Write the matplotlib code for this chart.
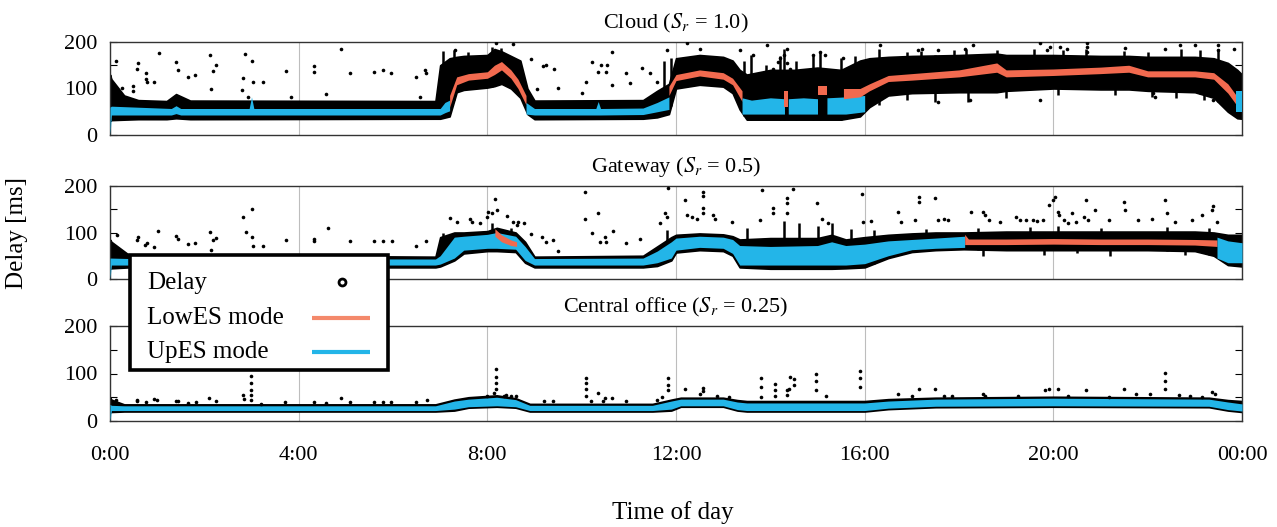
import matplotlib
matplotlib.use("Agg")
import numpy as np
import matplotlib.pyplot as plt
from matplotlib.patches import Rectangle

plt.rcParams['font.family'] = 'serif'
plt.rcParams['font.serif'] = ['Liberation Serif', 'DejaVu Serif']
plt.rcParams['mathtext.fontset'] = 'stix'
plt.rcParams['font.size'] = 16

RED = '#F26A4F'
BLUE = '#23B5E8'

hours = [0, 4, 8, 12, 16, 20, 24]
hour_labels = ['0:00', '4:00', '8:00', '12:00', '16:00', '20:00', '00:00']

# ---------------- Cloud (S_r = 1.0) ----------------
cloud_t = [0, 0.03, 0.3, 0.6, 1.2, 1.4, 1.7, 6.9, 7.0, 7.2, 7.35, 7.5, 8.0, 8.15, 8.3, 8.5,
           8.7, 8.85, 9.0, 11.3, 11.6, 11.85, 12.0, 12.5, 13.0, 13.2, 13.35, 13.5, 14.0, 14.5,
           15.0, 15.5, 15.9, 16.1, 16.5, 17.0, 18.0, 18.8, 19.0, 20.0, 21.0, 21.6, 22.0, 23.0,
           23.4, 23.7, 23.9, 24.0]
cloud_lo = [30, 32, 33, 34, 34, 36, 34, 35, 35, 40, 92, 97, 102, 105, 110, 100,
            80, 45, 34, 35, 38, 45, 100, 108, 104, 90, 55, 33, 33, 33,
            33, 33, 40, 60, 85, 90, 92, 92, 95, 100, 98, 98, 95, 92,
            80, 50, 36, 35]
cloud_hi = [130, 120, 85, 75, 73, 88, 74, 73, 150, 165, 168, 170, 172, 185, 180, 170,
            160, 100, 74, 75, 95, 110, 165, 172, 168, 160, 140, 130, 140, 140,
            145, 140, 160, 165, 168, 170, 172, 175, 172, 172, 170, 170, 168, 168,
            165, 155, 140, 130]
cloud_seg_mode = ['U', 'L', 'U', 'L', 'U', 'L', 'U', 'L', 'U', 'L', 'U']
cloud_seg_t = [[0, 0.03, 1.3, 1.4, 1.5, 2.95, 3.0, 3.05, 7.0, 7.1, 7.2],
               [7.2, 7.35, 7.6, 8.0, 8.15, 8.3, 8.5, 8.65, 8.82],
               [8.82, 9.0, 10.3, 10.35, 10.4, 11.3, 11.6, 11.85],
               [11.85, 12.0, 12.5, 13.0, 13.2, 13.4],
               [13.4, 13.6, 14.0, 14.3],
               [14.3, 14.38],
               [14.38, 14.7, 15.0],
               [15.0, 15.2],
               [15.2, 15.6, 16.0],
               [15.55, 15.9, 16.1, 16.5, 17.0, 18.0, 18.8, 19.0, 20.0, 21.0, 21.6, 22.0, 23.0,
                23.4, 23.7, 23.88],
               [23.88, 24.0]]
cloud_seg_lo = [[0, 43, 43, 46, 43, 43, 43, 43, 43, 48, 52],
                [60, 108, 118, 122, 130, 140, 122, 100, 65],
                [45, 43, 43, 43, 43, 44, 50, 55],
                [85, 117, 127, 120, 108, 72],
                [45, 45, 45, 45],
                [60, 60],
                [45, 45, 45],
                [85, 85],
                [45, 45, 50],
                [78, 82, 95, 115, 118, 125, 135, 125, 128, 132, 135, 125, 125, 120, 90, 65],
                [50, 50]]
cloud_seg_hi = [[60, 62, 57, 63, 57, 57, 82, 57, 57, 70, 75],
                [85, 125, 132, 136, 150, 158, 140, 120, 85],
                [70, 57, 57, 72, 57, 58, 70, 82],
                [105, 130, 140, 134, 122, 95],
                [80, 75, 80, 78],
                [95, 95],
                [78, 80, 78],
                [105, 105],
                [80, 82, 85],
                [100, 100, 110, 128, 132, 140, 155, 140, 142, 146, 150, 138, 138, 134, 110, 85],
                [95, 95]]
cloud_spike_t = [7.05, 7.3, 7.6, 8.1, 8.3, 11.75, 11.9, 13.45, 13.6, 13.9, 14.2, 14.3, 14.55,
                 14.9, 15.05, 15.5, 15.8, 16.3, 16.9, 17.2, 17.9, 18.15, 18.8, 19.6, 20.2,
                 20.7, 21.5, 22.0, 22.7, 23.1, 23.5]
cloud_spike_v = [180, 183, 178, 190, 188, 160, 165, 160, 172, 150, 170, 185, 160,
                 170, 178, 165, 170, 185, 178, 180, 182, 185, 182, 185, 183,
                 185, 180, 178, 185, 182, 185]
cloud_dip_t = [16.3, 16.9, 17.5, 18.2, 19.0, 20.1, 21.3, 22.1, 22.6, 23.2]
cloud_dip_v = [65, 75, 70, 72, 80, 85, 85, 82, 80, 75]
cloud_dot_t = [0.13, 1.03, 0.57, 0.59, 0.76, 0.77, 0.79, 0.94, 0.48, 0.48, 0.25, 1.39, 1.45,
               1.65, 1.8, 2.12, 2.25, 2.19, 2.15, 2.86, 3.0, 2.81, 3.03, 3.25, 2.8, 2.93, 3.73,
               3.83, 4.33, 4.33, 4.59, 4.89, 5.09, 5.59, 5.78, 5.96, 6.48, 6.67, 6.71, 6.58,
               7.31, 8.18, 8.54, 8.92, 9.05, 9.18, 9.25, 9.41, 9.5, 10.0, 10.1, 10.21, 10.34,
               10.52, 10.4, 10.54, 10.65, 10.65, 10.95, 11.02, 11.27, 11.45, 11.6, 11.8, 12.23,
               12.51, 13.36, 13.64, 13.92, 14.35, 14.28, 14.2, 14.17, 14.06, 14.35, 14.42,
               14.91, 15.05, 15.16, 15.55, 16.32, 17.14, 17.21, 17.56, 18.13, 18.3, 19.72,
               19.86, 19.93, 20.14, 20.28, 20.71, 20.71, 20.71, 21.52, 22.37, 22.68, 23.0,
               23.5, 23.5, 23.82, 17.56, 18.23, 19.72, 22.12, 22.15, 23.39]
cloud_dot_v = [160, 176, 141, 154, 133, 120, 115, 113, 106, 95, 100, 157, 140,
               124, 129, 172, 150, 138, 99, 174, 160, 122, 115, 115, 97, 82, 138,
               81, 148, 136, 88, 186, 133, 136, 140, 134, 124, 140, 133, 82,
               183, 197, 195, 163, 98, 148, 150, 141, 100, 90, 113, 156, 136,
               136, 150, 150, 179, 107, 134, 111, 145, 133, 115, 183, 197,
               186, 183, 172, 194, 186, 172, 165, 158, 143, 154, 143,
               172, 179, 172, 165, 194, 183, 185, 183, 186, 194, 197,
               183, 190, 190, 186, 197, 190, 179, 188, 186, 194, 194,
               194, 183, 186, 72, 75, 75, 90, 82, 75]

# ---------------- Gateway (S_r = 0.5) ----------------
gw_t = [0, 0.03, 0.4, 6.9, 7.0, 7.3, 7.5, 8.0, 8.2, 8.6, 8.8, 9.0, 11.3, 11.6, 11.9, 12.0,
        12.5, 13.0, 13.2, 13.35, 14.0, 15.0, 15.3, 15.6, 16.0, 16.5, 17.0, 17.5, 18.1, 19.0,
        20.0, 21.0, 22.0, 23.0, 23.4, 23.7, 24.0]
gw_lo = [22, 23, 25, 25, 27, 40, 55, 60, 60, 58, 35, 25, 25, 28, 40, 57,
         62, 60, 50, 25, 22, 22, 22, 23, 25, 45, 58, 62, 64, 62,
         62, 62, 62, 60, 50, 30, 27]
gw_hi = [85, 80, 52, 48, 90, 100, 100, 103, 110, 100, 80, 48, 50, 70, 90, 95,
         98, 96, 92, 85, 88, 88, 95, 85, 90, 95, 98, 100, 100, 102,
         102, 102, 102, 102, 100, 95, 95]
gw_seg_mode = ['U', 'L', 'L', 'U']
gw_seg_t = [[0, 0.03, 0.4, 6.9, 7.0, 7.3, 7.5, 8.0, 8.2, 8.6, 8.8, 9.0, 11.3, 11.6, 11.9,
             12.0, 12.5, 13.0, 13.2, 13.35, 14.0, 15.0, 15.3, 15.6, 16.0, 16.5, 17.0, 17.5,
             18.12],
            [8.16, 8.3, 8.5, 8.62],
            [18.12, 18.2, 19.0, 20.0, 21.0, 22.0, 23.0, 23.47],
            [23.47, 23.7, 24.0]]
gw_seg_lo = [[0, 30, 30, 30, 32, 45, 62, 66, 66, 64, 40, 30, 30, 35, 45,
              62, 68, 66, 55, 30, 30, 30, 30, 30, 33, 50, 63, 66, 68],
             [92, 80, 72, 70],
             [74, 74, 74, 75, 74, 74, 73, 70],
             [45, 35, 35]]
gw_seg_hi = [[45, 45, 44, 43, 50, 90, 92, 96, 100, 92, 70, 44, 45, 60, 80,
              88, 92, 90, 85, 72, 70, 72, 80, 72, 75, 82, 85, 88, 92],
             [108, 95, 84, 80],
             [96, 86, 86, 87, 86, 86, 85, 84],
             [90, 82, 78]]
gw_spike_t = [7.05, 8.1, 8.5, 11.8, 13.5, 14.3, 14.6, 15.0, 15.3, 15.7, 16.2, 17.3, 18.4,
              19.5, 20.1, 21.0, 22.4, 23.3]
gw_spike_v = [100, 120, 110, 105, 110, 125, 120, 115, 120, 108, 105, 108, 110,
              112, 115, 110, 112, 110]
gw_dip_t = [18.5, 19.8, 20.5, 21.2, 22.8]
gw_dip_v = [50, 52, 55, 50, 52]
gw_dot_t = [0.15, 0.57, 0.6, 0.74, 0.78, 0.94, 1.02, 1.39, 1.45, 1.65, 1.8, 2.13, 2.25, 2.19,
            2.15, 2.82, 3.0, 2.88, 3.0, 3.03, 3.25, 3.73, 4.33, 4.33, 4.63, 5.09, 5.59, 5.78,
            5.97, 6.48, 6.71, 7.21, 7.35, 7.63, 7.67, 7.84, 8.02, 8.09, 7.99, 8.16, 8.21, 8.42,
            8.55, 8.66, 8.62, 8.78, 8.93, 9.15, 9.24, 9.4, 9.5, 10.08, 10.08, 10.34, 10.21,
            10.39, 10.49, 10.51, 10.66, 10.95, 11.24, 11.77, 11.8, 11.66, 11.84, 12.19, 12.23,
            12.33, 12.44, 12.58, 12.58, 12.58, 12.58, 12.79, 12.83, 13.18, 13.82, 13.78,
            14.06, 14.06, 14.35, 14.35, 14.35, 14.49, 14.98, 15.09, 15.23, 15.94, 15.97,
            16.14, 16.71, 16.76, 17.06, 17.15, 17.15, 17.5, 17.55, 17.68, 17.77, 18.25,
            18.51, 18.55, 18.64, 18.86, 19.21, 19.3, 19.43, 19.56, 19.65, 19.78, 19.91, 20.0,
            20.04, 20.09, 20.13, 20.22, 20.31, 20.39, 20.48, 20.66, 20.7, 20.74, 20.88, 21.18,
            21.49, 21.53, 21.8, 22.1, 22.36, 22.41, 22.58, 22.93, 23.15, 23.37, 23.39, 23.46]
gw_dot_v = [95, 84, 90, 73, 77, 68, 103, 92, 85, 75, 77, 102, 89, 84,
            62, 134, 150, 102, 90, 70, 70, 84, 87, 82, 109, 82, 82, 82,
            82, 72, 82, 131, 123, 128, 123, 121, 145, 141, 134, 172, 148, 136,
            123, 123, 116, 120, 96, 90, 80, 83, 61, 188, 128, 143, 98,
            80, 91, 80, 104, 78, 87, 141, 134, 120, 195, 170, 138,
            134, 130, 188, 179, 152, 141, 138, 130, 123, 191, 127,
            152, 141, 174, 163, 141, 193, 163, 128, 120, 183, 123,
            125, 145, 123, 127, 177, 166, 175, 127, 130, 127, 145,
            145, 138, 127, 123, 134, 127, 127, 127, 125, 127, 159, 170,
            177, 145, 138, 127, 120, 141, 123, 134, 170, 127, 148, 127,
            166, 148, 127, 130, 170, 141, 123, 127, 138, 148, 156, 123]

# ---------------- Central office (S_r = 0.25) ----------------
co_t = [0, 0.03, 0.3, 6.9, 7.3, 7.6, 8.2, 8.6, 8.9, 11.5, 11.9, 12.1, 13.0, 13.3, 13.5, 16.0,
        16.5, 17.5, 20.0, 23.3, 23.7, 24.0]
co_lo = [18, 19, 20, 20, 22, 28, 30, 28, 20, 20, 22, 30, 30, 22, 20, 20, 25, 29, 30, 29, 22, 19]
co_hi = [50, 45, 35, 35, 45, 50, 54, 48, 36, 36, 45, 49, 49, 44, 42, 42, 46, 49, 51, 49, 44, 42]
co_seg_mode = ['U']
co_seg_t = [co_t]
co_seg_lo = [[0, 22, 22, 22, 25, 30, 32, 30, 22, 22, 25, 32, 32, 24, 22, 22, 27, 31, 32, 31, 24, 21]]
co_seg_hi = [[35, 33, 32, 32, 42, 46, 50, 45, 33, 33, 42, 46, 46, 40, 38, 38, 42, 46, 48, 46, 40, 36]]
co_spike_t = []
co_spike_v = []
co_dip_t = []
co_dip_v = []
co_dot_t = [0.13, 0.57, 0.57, 0.77, 0.94, 1.0, 1.4, 1.45, 1.65, 1.82, 2.1, 2.25, 2.82, 2.85,
            2.99, 2.99, 2.99, 2.99, 2.99, 3.2, 3.72, 4.33, 4.59, 4.89, 5.09, 5.6, 5.78, 5.96,
            6.48, 6.72, 8.18, 8.18, 8.18, 8.18, 8.15, 8.0, 8.35, 8.5, 8.6, 8.4, 9.2, 9.4, 10.1,
            10.1, 10.1, 10.1, 10.35, 10.5, 10.65, 10.2, 10.45, 10.95, 11.83, 11.83, 11.83,
            11.7, 11.6, 12.2, 12.51, 12.58, 12.58, 12.86, 13.12, 13.81, 13.81, 13.81, 14.09,
            14.09, 14.09, 14.35, 14.42, 14.5, 14.5, 14.4, 14.35, 14.96, 14.96, 14.96, 15.18,
            15.91, 15.91, 15.91, 16.7, 17.15, 17.5, 17.0, 17.68, 17.85, 18.5, 18.55, 19.26,
            19.82, 19.91, 20.09, 20.31, 20.7, 21.18, 21.49, 21.75, 22.06, 22.36, 22.36, 22.36,
            22.67, 22.89, 23.15, 23.37, 23.42]
co_dot_v = [44, 43, 44, 39, 46, 44, 42, 42, 37, 39, 48, 42, 55, 46,
            95, 79, 65, 55, 44, 36, 41, 41, 37, 48, 39, 40, 40, 40,
            40, 44, 109, 92, 79, 67, 58, 53, 53, 53, 53, 55, 42, 42, 90,
            79, 67, 53, 60, 48, 48, 43, 43, 43, 90, 76, 65,
            51, 44, 67, 57, 69, 63, 53, 50, 90, 71, 51, 78,
            65, 53, 65, 92, 88, 76, 67, 55, 100, 85, 65, 53,
            106, 90, 71, 57, 67, 67, 53, 53, 53, 57, 53, 53,
            65, 67, 67, 53, 65, 51, 67, 57, 57, 102, 85, 67,
            55, 53, 51, 62, 57]

panels = [
    ('Cloud ($S_r$ = 1.0)', cloud_t, cloud_lo, cloud_hi, cloud_seg_mode, cloud_seg_t,
     cloud_seg_lo, cloud_seg_hi, cloud_dot_t, cloud_dot_v,
     cloud_spike_t, cloud_spike_v, cloud_dip_t, cloud_dip_v),
    ('Gateway ($S_r$ = 0.5)', gw_t, gw_lo, gw_hi, gw_seg_mode, gw_seg_t,
     gw_seg_lo, gw_seg_hi, gw_dot_t, gw_dot_v,
     gw_spike_t, gw_spike_v, gw_dip_t, gw_dip_v),
    ('Central office ($S_r$ = 0.25)', co_t, co_lo, co_hi, co_seg_mode, co_seg_t,
     co_seg_lo, co_seg_hi, co_dot_t, co_dot_v,
     co_spike_t, co_spike_v, co_dip_t, co_dip_v),
]

fig = plt.figure(figsize=(12.77, 5.27), dpi=100)
W, H = 1277, 527
left, right = 110, 1242
tops = [42, 186, 326]
bottoms = [135, 279, 421]

mode_color = {'U': BLUE, 'L': RED}

for k, (title, t, lo, hi, smode, st, slo, shi, dt, dv, sp_t, sp_v, dp_t, dp_v) in enumerate(panels):
    ax = fig.add_axes([left / W, 1 - bottoms[k] / H, (right - left) / W,
                       (bottoms[k] - tops[k]) / H])
    ax.fill_between(t, lo, hi, color='black', lw=1.2, edgecolor='black', zorder=2)
    if sp_t:
        ax.vlines(sp_t, np.interp(sp_t, t, lo), sp_v, color='black', lw=1.8, zorder=2)
    if dp_t:
        ax.vlines(dp_t, dp_v, np.interp(dp_t, t, hi), color='black', lw=1.8, zorder=2)
    for m, tt, l, h in zip(smode, st, slo, shi):
        ax.fill_between(tt, l, h, color=mode_color[m], lw=0, zorder=3)
    ax.plot(dt, dv, 'o', color='black', ms=2.6, mew=0, zorder=4)

    ax.set_xlim(0, 24)
    ax.set_ylim(0, 200)
    ax.set_xticks(hours)
    ax.grid(axis='x', color='#bdbdbd', lw=0.8)
    ax.set_axisbelow(True)
    ax.set_yticks([0, 100, 200])
    ax.set_yticks([50, 150], minor=True)
    ax.tick_params(axis='y', which='both', direction='in', left=True, right=True,
                   length=5, width=0.8, pad=9)
    ax.tick_params(axis='x', length=0, pad=18)
    if k < 2:
        ax.set_xticklabels([])
    else:
        ax.set_xticklabels(hour_labels)
    for s in ax.spines.values():
        s.set_linewidth(1.0)
        s.set_color('#333333')
    ax.set_title(title, fontsize=16, pad=10)

fig.text(17 / W, 1 - 233 / H, 'Delay [ms]', rotation=90, ha='center', va='center', fontsize=18)
fig.text(673 / W, 1 - 513 / H, 'Time of day', ha='center', va='center', fontsize=18)

# legend drawn in figure pixel space
lg = fig.add_axes([0, 0, 1, 1], zorder=10)
lg.set_xlim(0, W)
lg.set_ylim(H, 0)
lg.axis('off')
lg.add_patch(Rectangle((130, 255), 258, 115, facecolor='white', edgecolor='black', lw=2.6))
legend_labels = ['Delay', 'LowES mode', 'UpES mode']
legend_rows = [283, 318, 352]
for lab, yy in zip(legend_labels, legend_rows):
    lg.text(147, yy, lab, ha='left', va='center', fontsize=18)
lg.plot([342], [282], 'o', mfc='white', mec='black', ms=5, mew=2)
lg.plot([312, 370], [318, 318], color='#F4896B', lw=3, solid_capstyle='butt')
lg.plot([312, 370], [352, 352], color=BLUE, lw=3, solid_capstyle='butt')

fig.savefig('out.png', dpi=100)
